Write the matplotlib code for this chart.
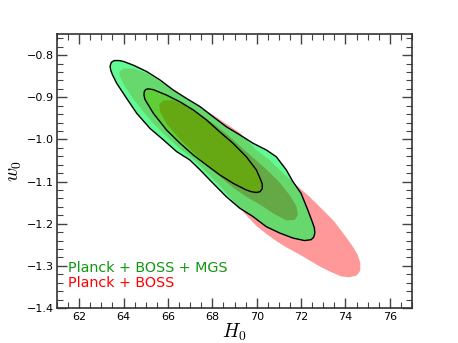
import matplotlib
matplotlib.use("Agg")
import matplotlib.pyplot as plt
from matplotlib.ticker import MultipleLocator, FuncFormatter

plt.rcParams["mathtext.fontset"] = "cm"

# ---- contour outlines (H0, w0) ----
green_outer_h = [63.42, 63.39, 63.45, 63.58, 63.80, 63.99, 64.44, 65.04, 65.64, 66.24,
                 66.84, 67.44, 68.03, 68.63, 69.23, 69.83, 70.43, 70.88, 71.33, 71.63,
                 72.00, 72.30, 72.50, 72.60, 72.62, 72.57, 72.45, 72.15, 71.63, 71.03,
                 70.43, 69.83, 69.23, 68.63, 68.03, 67.44, 66.99, 66.39, 65.79, 65.19,
                 64.59, 64.14, 63.69, 63.50]
green_outer_w = [-0.836, -0.826, -0.817, -0.813, -0.813, -0.815, -0.824, -0.839, -0.859, -0.883,
                 -0.903, -0.922, -0.946, -0.970, -0.989, -1.009, -1.025, -1.041, -1.072, -1.100,
                 -1.128, -1.167, -1.195, -1.210, -1.222, -1.232, -1.238, -1.240, -1.234, -1.222,
                 -1.207, -1.183, -1.163, -1.136, -1.104, -1.072, -1.049, -1.029, -1.001, -0.974,
                 -0.938, -0.903, -0.867, -0.847]

green_inner_h = [64.92, 64.93, 64.99, 65.10, 65.34, 65.94, 66.54, 67.14, 67.74, 68.33,
                 68.93, 69.53, 69.98, 70.15, 70.25, 70.25, 70.15, 69.98, 69.75, 69.53,
                 68.93, 68.33, 67.74, 67.14, 66.54, 65.94, 65.34, 64.96]
green_inner_w = [-0.895, -0.887, -0.882, -0.880, -0.882, -0.895, -0.911, -0.930, -0.954, -0.982,
                 -1.009, -1.041, -1.072, -1.092, -1.106, -1.117, -1.124, -1.126, -1.124, -1.120,
                 -1.104, -1.084, -1.061, -1.037, -1.009, -0.978, -0.938, -0.905]

red_outer_h = [63.81, 63.99, 64.44, 65.04, 65.64, 66.24, 66.84, 67.44, 68.03, 68.63,
               69.23, 69.98, 70.58, 71.18, 71.78, 72.38, 72.90, 73.28, 73.50, 73.73,
               74.03, 74.33, 74.55, 74.67, 74.67, 74.51, 74.17, 73.80, 73.28, 72.83,
               72.38, 71.86, 71.33, 70.88, 70.43, 69.98, 69.53, 68.93, 68.33, 67.74,
               67.21, 66.61, 66.01, 65.41, 64.82, 64.37, 64.02, 63.84]
red_outer_w = [-0.839, -0.832, -0.832, -0.843, -0.863, -0.884, -0.905, -0.924, -0.942, -0.963,
               -0.984, -1.025, -1.049, -1.080, -1.108, -1.136, -1.163, -1.183, -1.195, -1.211,
               -1.232, -1.254, -1.274, -1.293, -1.311, -1.323, -1.327, -1.325, -1.313, -1.301,
               -1.287, -1.271, -1.256, -1.241, -1.224, -1.205, -1.180, -1.145, -1.110, -1.078,
               -1.050, -1.025, -0.997, -0.966, -0.930, -0.899, -0.871, -0.851]

red_inner_h = [65.61, 65.79, 66.24, 66.84, 67.44, 68.03, 68.63, 69.23, 69.83, 70.43,
               71.03, 71.48, 71.78, 71.86, 71.71, 71.33, 70.73, 70.13, 69.53, 68.93,
               68.33, 67.74, 67.14, 66.54, 65.94, 65.64]
red_inner_w = [-0.916, -0.908, -0.907, -0.921, -0.941, -0.962, -0.987, -1.015, -1.043, -1.071,
               -1.102, -1.132, -1.158, -1.179, -1.191, -1.192, -1.175, -1.154, -1.136, -1.114,
               -1.088, -1.061, -1.031, -1.000, -0.963, -0.934]

xticks = [62, 64, 66, 68, 70, 72, 74, 76]
yticks = [-1.4, -1.3, -1.2, -1.1, -1.0, -0.9, -0.8]
label_green = "Planck + BOSS + MGS"
label_red = "Planck + BOSS"

# ---- figure ----
fig = plt.figure(figsize=(4.58, 3.43), dpi=100)
ax = fig.add_axes([0.1245, 0.102, 0.7751, 0.7989])

c_pink = "#ff9999"
c_mint = "#62fa92"
c_mid = "#66d86c"
c_grey = "#65a846"
c_bright = "#5ecf36"
c_olive = "#66a813"

ax.fill(red_outer_h, red_outer_w, color=c_pink, lw=0, zorder=1)
g_out = ax.fill(green_outer_h, green_outer_w, color=c_mint, lw=0, zorder=2)[0]
p = ax.fill(red_outer_h, red_outer_w, color=c_mid, lw=0, zorder=3)[0]
p.set_clip_path(g_out)
p = ax.fill(red_inner_h, red_inner_w, color=c_grey, lw=0, zorder=4)[0]
p.set_clip_path(g_out)
g_in = ax.fill(green_inner_h, green_inner_w, color=c_bright, lw=0, zorder=5)[0]
p = ax.fill(red_inner_h, red_inner_w, color=c_olive, lw=0, zorder=6)[0]
p.set_clip_path(g_in)

ax.fill(green_outer_h, green_outer_w, facecolor="none", edgecolor="black", lw=1.0,
        joinstyle="round", zorder=7)
ax.fill(green_inner_h, green_inner_w, facecolor="none", edgecolor="black", lw=1.0,
        joinstyle="round", zorder=7)

ax.set_xlim(61, 77)
ax.set_ylim(-1.4, -0.75)
ax.set_xticks(xticks)
ax.set_yticks(yticks)
ax.yaxis.set_major_formatter(FuncFormatter(lambda v, pos: ("%.1f" % v).replace("-", "\u2212")))
ax.xaxis.set_minor_locator(MultipleLocator(0.5))
ax.yaxis.set_minor_locator(MultipleLocator(0.02))
ax.tick_params(which="both", direction="in", top=True, right=True, colors="#444444",
               labelcolor="black", labelsize=8)
ax.tick_params(which="major", length=7, width=1.0)
ax.tick_params(which="minor", length=4, width=0.8)
ax.tick_params(axis="x", pad=3)
ax.tick_params(axis="y", pad=2)
for s in ax.spines.values():
    s.set_color("#333333")
    s.set_linewidth(1.2)

ax.set_xlabel(r"$H_0$", fontsize=14, labelpad=0)
ax.set_ylabel(r"$w_0$", fontsize=14, labelpad=2)

ax.text(61.5, -1.305, label_green, color="#129612", fontsize=10.3, va="center", ha="left", zorder=8)
ax.text(61.5, -1.340, label_red, color="#ff0000", fontsize=10.3, va="center", ha="left", zorder=8)

fig.savefig("out.png", dpi=100)
